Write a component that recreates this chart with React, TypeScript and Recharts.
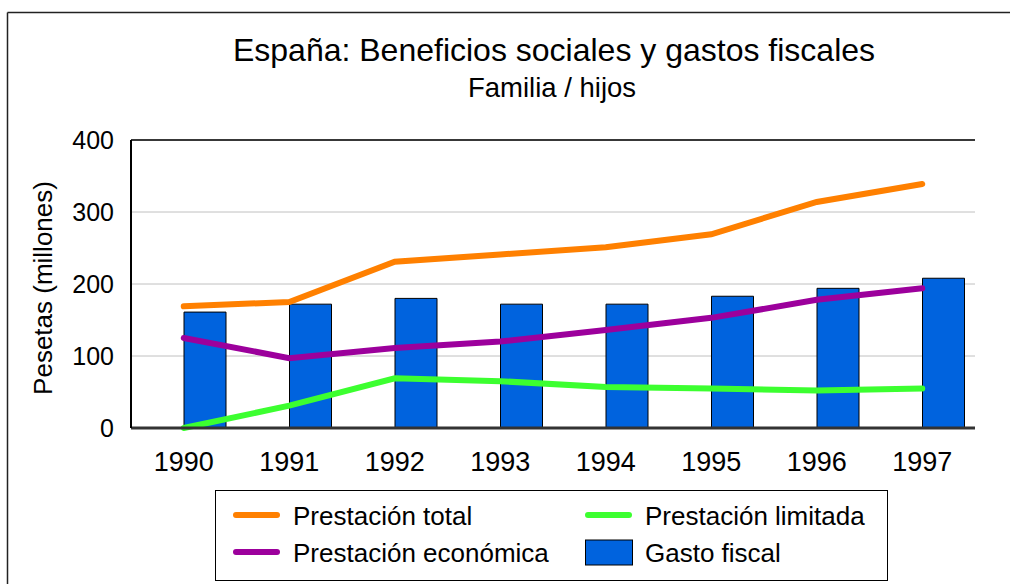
import { ComposedChart, Bar, Line, XAxis, YAxis, CartesianGrid, ReferenceLine } from 'recharts'

const years = ['1990', '1991', '1992', '1993', '1994', '1995', '1996', '1997']
const prestacionTotal = [169, 175, 231, 241, 251, 269, 314, 339]
const prestacionEconomica = [125, 97, 111, 120, 136, 153, 178, 194]
const prestacionLimitada = [0, 31, 69, 65, 57, 55, 52, 55]
const gastoFiscal = [161, 172, 180, 172, 172, 183, 194, 208]
const yTicks = [0, 100, 200, 300, 400]

const FONT = '"Liberation Sans", Arial, sans-serif'

const COLORS = {
  total: '#ff8000',
  economica: '#9c009c',
  limitada: '#3cff30',
  gasto: '#0063de',
}

const data = years.map((year, i) => ({
  year,
  pad: null,
  total: prestacionTotal[i],
  economica: prestacionEconomica[i],
  limitada: prestacionLimitada[i],
  gasto: gastoFiscal[i],
}))

// legend entries, two columns like the original
const legendItems = [
  { label: 'Prestación total', color: COLORS.total, kind: 'line', col: 0, row: 0 },
  { label: 'Prestación limitada', color: COLORS.limitada, kind: 'line', col: 1, row: 0 },
  { label: 'Prestación económica', color: COLORS.economica, kind: 'line', col: 0, row: 1 },
  { label: 'Gasto fiscal', color: COLORS.gasto, kind: 'box', col: 1, row: 1 },
]

function Overlay() {
  const colX = [233, 585]
  const rowY = [515, 552]
  return (
    <svg
      width={1010}
      height={584}
      style={{ position: 'absolute', left: 0, top: 0, pointerEvents: 'none' }}
      fontFamily={FONT}
    >
      {/* outer frame, runs off the right and bottom */}
      <line x1={7.5} y1={12.5} x2={1010} y2={12.5} stroke="#222" strokeWidth={1.5} />
      <line x1={7.5} y1={12.5} x2={7.5} y2={584} stroke="#222" strokeWidth={1.5} />

      <text x={554} y={61} textAnchor="middle" fontSize={32} fill="#000">
        España: Beneficios sociales y gastos fiscales
      </text>
      <text x={552} y={97} textAnchor="middle" fontSize={27.5} fill="#000">
        Familia / hijos
      </text>
      <text
        x={52}
        y={288}
        textAnchor="middle"
        fontSize={26}
        fill="#000"
        transform="rotate(-90, 52, 288)"
      >
        Pesetas (millones)
      </text>

      <rect x={215.5} y={490.5} width={672} height={90} fill="#fff" stroke="#000" strokeWidth={1} />
      {legendItems.map((item) => {
        const x = colX[item.col]
        const y = rowY[item.row]
        return (
          <g key={item.label}>
            {item.kind === 'line' ? (
              <line x1={x + 3} y1={y} x2={x + 44} y2={y} stroke={item.color} strokeWidth={6} strokeLinecap="round" />
            ) : (
              <rect x={x + 0.5} y={y - 12} width={47} height={25} fill={item.color} stroke="#000" strokeWidth={1} />
            )}
            <text x={x + 60} y={y + 10} fontSize={26} fill="#000">
              {item.label}
            </text>
          </g>
        )
      })}
    </svg>
  )
}

export default function App() {
  return (
    <div style={{ position: 'absolute', left: 0, top: 0, width: 1010, height: 584, background: '#fff', overflow: 'hidden' }}>
      <ComposedChart
        width={1010}
        height={584}
        data={data}
        margin={{ top: 140, right: 35, left: 71, bottom: 96 }}
        barCategoryGap={11}
        barGap={0}
      >
        <CartesianGrid vertical={false} stroke="#c0c0c0" strokeWidth={1} />
        <XAxis
          dataKey="year"
          height={60}
          tickLine={false}
          tickSize={0}
          tickMargin={24}
          axisLine={{ stroke: '#333', strokeWidth: 3 }}
          tick={{ fontSize: 27, fill: '#000', fontFamily: FONT }}
        />
        <YAxis
          domain={[0, 400]}
          ticks={yTicks}
          width={60}
          tickLine={false}
          tickSize={0}
          tickMargin={17}
          axisLine={{ stroke: '#000', strokeWidth: 2 }}
          tick={{ fontSize: 25, fill: '#000', fontFamily: FONT }}
        />
        <YAxis
          yAxisId="right"
          orientation="right"
          domain={[0, 400]}
          width={0}
          tick={false}
          tickLine={false}
          axisLine={{ stroke: '#000', strokeWidth: 1.5 }}
        />
        <ReferenceLine y={400} stroke="#000" strokeWidth={1.5} />
        <Bar dataKey="pad" fill="transparent" legendType="none" isAnimationActive={false} />
        <Bar dataKey="gasto" fill={COLORS.gasto} stroke="#000" strokeWidth={1} isAnimationActive={false} />
        <Line type="linear" dataKey="limitada" stroke={COLORS.limitada} strokeWidth={6} strokeLinecap="round" dot={false} activeDot={false} isAnimationActive={false} />
        <Line type="linear" dataKey="economica" stroke={COLORS.economica} strokeWidth={6} strokeLinecap="round" dot={false} activeDot={false} isAnimationActive={false} />
        <Line type="linear" dataKey="total" stroke={COLORS.total} strokeWidth={6} strokeLinecap="round" dot={false} activeDot={false} isAnimationActive={false} />
      </ComposedChart>
      <Overlay />
    </div>
  )
}
